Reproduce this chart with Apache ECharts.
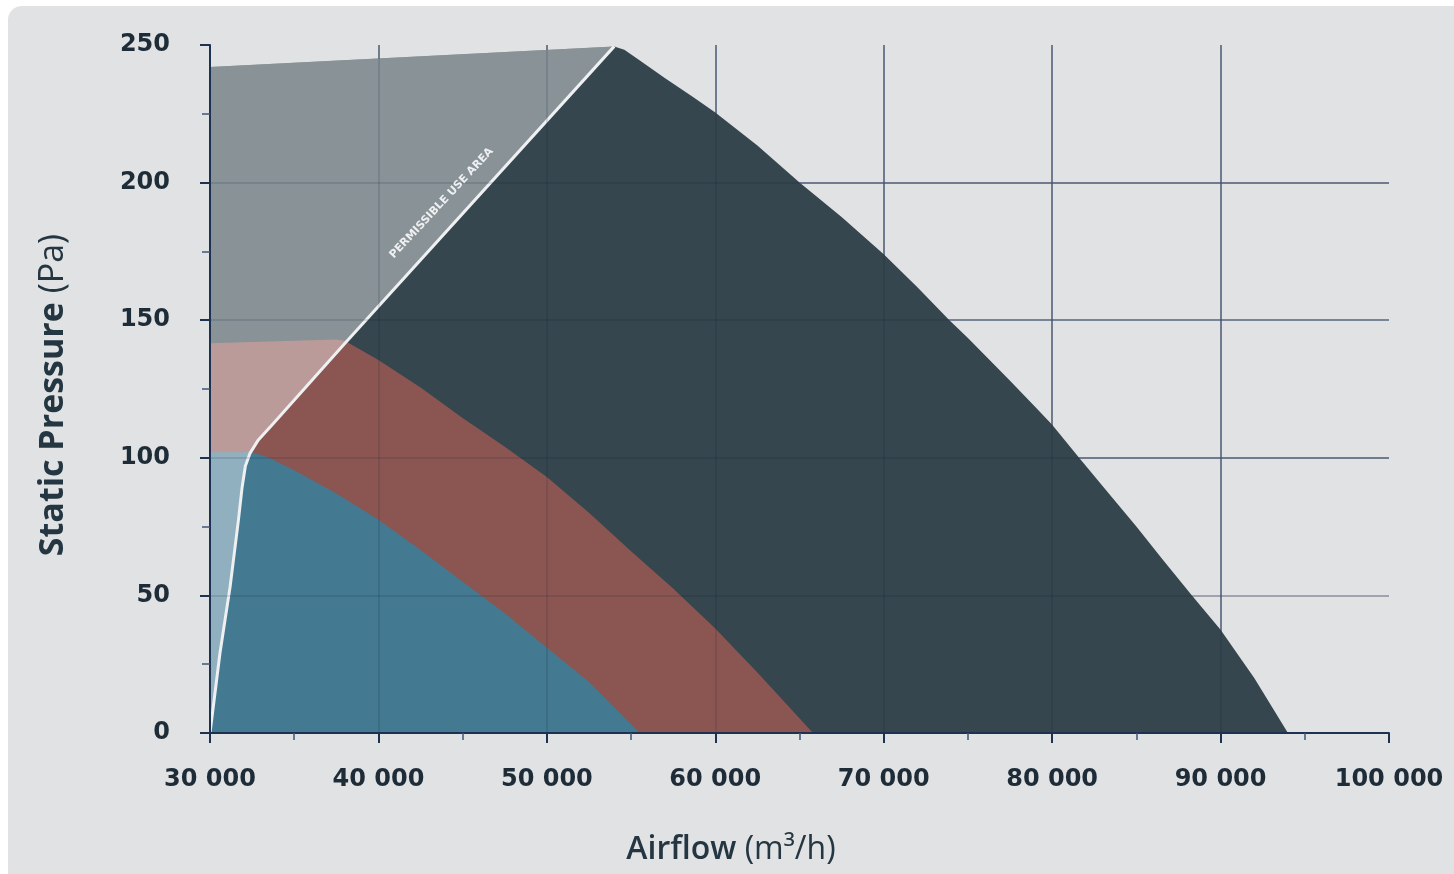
<!DOCTYPE html>
<html><head><meta charset="utf-8">
<script src="https://cdn.jsdelivr.net/npm/echarts@6/dist/echarts.min.js"></script>
<style>html,body{margin:0;padding:0;background:#ffffff;}#c{width:1454px;height:874px;}</style>
</head><body><div id="c"></div>
<script>
// ---- data (airflow m3/h, static pressure Pa) ----
const darkCurve = [[30000,242],[54000,249.5],[54600,248.3],[55500,244.5],[57000,238],[58700,231],[60000,225.5],[62500,213.5],[65000,200],[67500,187.5],[70000,174],[72000,162],[73900,150],[75000,143.5],[77500,128],[79000,118.5],[80000,112],[81600,100],[83500,86],[85000,75],[86500,63.5],[88300,50],[90000,37.5],[92000,20],[94000,0]];
const redCurve  = [[30000,141.6],[37500,143],[38000,142.5],[40000,135.5],[42500,125.5],[45000,114.5],[47500,104],[50000,93],[52500,80],[55000,66],[57500,52.5],[60000,38],[62500,22],[65800,0]];
const blueCurve = [[30000,102],[32500,102],[33500,100],[35000,95.5],[37500,87],[40000,77.5],[42500,66.5],[45000,55],[47500,43.5],[50000,31],[52500,18.5],[55500,0]];
const limitLine = [[30000,0],[30590,29],[31190,53],[31680,77],[31900,89],[32100,97],[32370,101.6],[32870,106.5],[33760,112.5],[38000,141.5],[54000,249.5]];
const topLine   = [[54000,249.5],[30000,242]];
const yTicks = [0,50,100,150,200,250];
const xTickLabels = ['30 000','40 000','50 000','60 000','70 000','80 000','90 000','100 000'];
const areaLabel = 'PERMISSIBLE USE AREA';
const labelAt = [43750,192.5];

const AX = '#1d3150';
const chart = echarts.init(document.getElementById('c'));
const labelFont = {fontFamily:'DejaVu Sans', fontWeight:'bold', fontSize:24, color:'#1e2c38'};
const xLabelFmt = v => xTickLabels[Math.round((v-30000)/10000)] || '';

function xAxisBase(extra){ return Object.assign({type:'value', min:30000, max:100000, interval:10000, position:'bottom'}, extra); }
function yAxisBase(extra){ return Object.assign({type:'value', min:yTicks[0], max:yTicks[yTicks.length-1], interval:50, position:'left'}, extra); }

const option = {
  animation:false,
  backgroundColor:'transparent',
  grid:{left:210, right:65, top:45, bottom:141, containLabel:false},
  xAxis:[
    xAxisBase({z:0, axisLine:{show:false}, axisTick:{show:false}, axisLabel:{show:false},
      splitLine:{show:true, showMinLine:false, showMaxLine:false, lineStyle:{color:'#5d6d85', width:1.5}}}),
    xAxisBase({z:10, axisLine:{show:true, onZero:false, lineStyle:{color:AX, width:2}},
      axisTick:{show:true, length:10, lineStyle:{color:AX, width:2}},
      minorTick:{show:true, splitNumber:2, length:7, lineStyle:{color:'#40557a', width:1.5}},
      axisLabel:Object.assign({margin:35, formatter:xLabelFmt}, labelFont),
      splitLine:{show:true, showMinLine:false, showMaxLine:false, lineStyle:{color:'rgba(20,35,60,0.18)', width:1.5}}})
  ],
  yAxis:[
    yAxisBase({z:0, axisLine:{show:false}, axisTick:{show:false}, axisLabel:{show:false},
      splitLine:{show:true, showMinLine:false, showMaxLine:false, lineStyle:{color:['#a3abb3','#5d6d85','#6a7a90','#5d6d85'], width:1.5}}}),
    yAxisBase({z:10, axisLine:{show:true, onZero:false, lineStyle:{color:AX, width:2}},
      axisTick:{show:true, length:10, lineStyle:{color:AX, width:2}},
      minorTick:{show:true, splitNumber:2, length:8, lineStyle:{color:'#40557a', width:1.5}},
      axisLabel:Object.assign({margin:40}, labelFont),
      splitLine:{show:true, showMinLine:false, showMaxLine:false, lineStyle:{color:'rgba(20,35,60,0.18)', width:1.5}}})
  ],
  series:[
    {type:'line', name:'max', data:darkCurve, smooth:false, symbol:'none', z:2,
      lineStyle:{width:0, opacity:0}, areaStyle:{color:'#35464e', opacity:1}},
    {type:'line', name:'mid', data:redCurve, smooth:false, symbol:'none', z:3,
      lineStyle:{width:0, opacity:0}, areaStyle:{color:'#8b5652', opacity:1}},
    {type:'line', name:'min', data:blueCurve, smooth:false, symbol:'none', z:4,
      lineStyle:{width:0, opacity:0}, areaStyle:{color:'#437a92', opacity:1}},
    {type:'custom', name:'outside', z:5, data:[[30000,0]],
      renderItem:(params, api) => {
        const pts = limitLine.concat(topLine).map(p => api.coord(p));
        return {type:'polygon', shape:{points:pts}, style:{fill:'rgba(255,255,255,0.41)'}};
      }},
    {type:'line', name:'limit', data:limitLine, smooth:false, symbol:'none', z:6,
      lineStyle:{color:'#eef0f1', width:3, join:'round'}}
  ],
  graphic:[
    {type:'rect', id:'bg', z:-10, silent:true, shape:{x:8, y:6, width:1470, height:890, r:14}, style:{fill:'#e1e2e4'}},
    {type:'text', id:'xt', x:731, y:850, z:20, style:{text:'{b|Airflow }{n|(m³/h)}', align:'center', verticalAlign:'middle',
      rich:{b:{fontFamily:'Open Sans', fontWeight:600, fontSize:32, fill:'#243641', color:'#243641'},
            n:{fontFamily:'Open Sans', fontWeight:400, fontSize:32, fill:'#243641', color:'#243641'}}}},
    {type:'text', id:'yt', x:53, y:395, z:20, rotation:Math.PI/2, style:{text:'{b|Static Pressure }{n|(Pa)}', align:'center', verticalAlign:'middle',
      rich:{b:{fontFamily:'Open Sans', fontWeight:700, fontSize:34, fill:'#243641', color:'#243641'},
            n:{fontFamily:'Open Sans', fontWeight:400, fontSize:34, fill:'#243641', color:'#243641'}}}}
  ]
};
chart.setOption(option);
const p = chart.convertToPixel({xAxisIndex:1, yAxisIndex:1}, labelAt);
chart.setOption({graphic:[{type:'text', id:'pl', x:p[0], y:p[1], z:20, rotation:47*Math.PI/180,
  style:{text:areaLabel, font:'bold 11px "DejaVu Sans"', fill:'#eef0f1', align:'center', verticalAlign:'middle'}}]});
</script></body></html>
